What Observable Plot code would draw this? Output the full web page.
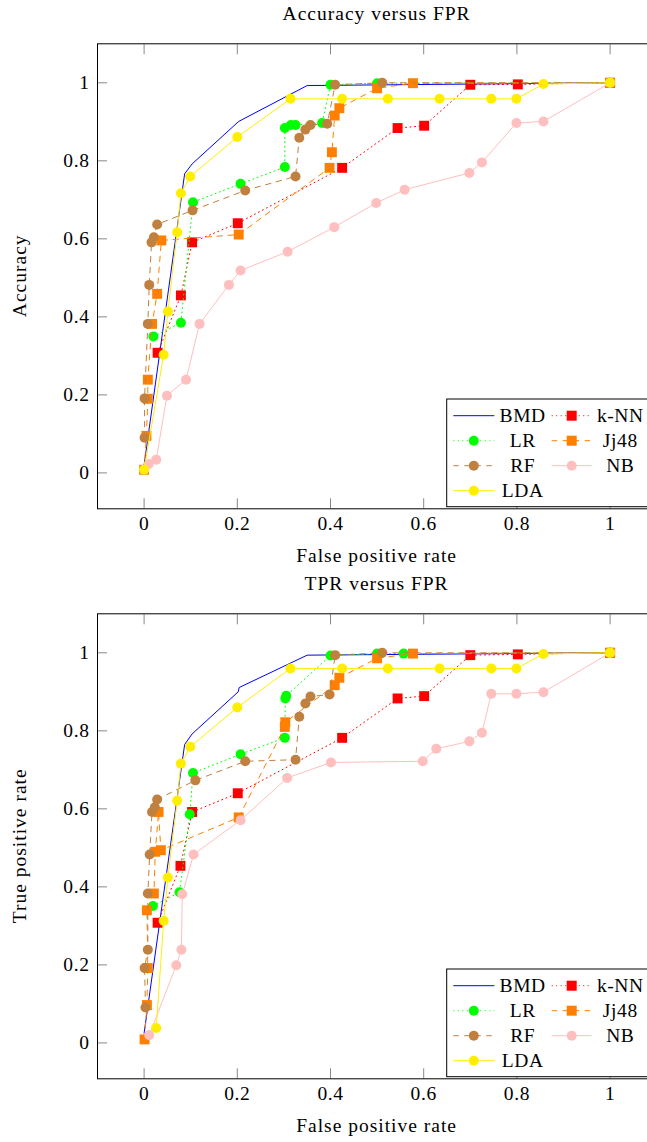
<!DOCTYPE html>
<html><head><meta charset="utf-8">
<script src="https://cdn.jsdelivr.net/npm/d3@7"></script>
<script src="https://cdn.jsdelivr.net/npm/@observablehq/plot@0.6"></script>
<style>
html,body{margin:0;padding:0;background:#fff;overflow:hidden;}
#wrap{position:relative;width:647px;height:1142px;overflow:hidden;font-family:"Liberation Serif",serif;}
#wrap svg{position:absolute;left:0;max-width:none !important;}
</style></head><body><div id="wrap"></div>
<script>
const FONT = '"Liberation Serif", "DejaVu Serif", serif';

// ---- tick values ----
const xTicks = [0, 0.2, 0.4, 0.6, 0.8, 1];
const yTicks = [0, 0.2, 0.4, 0.6, 0.8, 1];

// ---- series meta (legend order) ----
const seriesNames  = ["BMD", "k-NN", "LR", "Jj48", "RF", "NB", "LDA"];
const seriesColors = ["#0000ff", "#ff0000", "#00ff00", "#ff8000", "#bf8040", "#ffbfbf", "#ffee00"];
const seriesDash   = [null, "1 3.5", "1 3.5", "5.5 5.5", "5.5 5.5", null, null];
const seriesSymbol = [null, "square", "circle", "square", "circle", "circle", "circle"];

// ---- Chart 1: Accuracy versus FPR  ([FPR, Accuracy]) ----
const accBMD  = [[0,0.02],[0.087,0.767],[0.103,0.792],[0.203,0.901],[0.35,0.993],[1,1]];
const accKNN  = [[0.029,0.308],[0.079,0.455],[0.103,0.591],[0.201,0.64],[0.425,0.782],[0.544,0.884],[0.601,0.89],[0.7,0.995],[0.802,0.996],[1,1]];
const accLR   = [[0.02,0.35],[0.079,0.385],[0.105,0.694],[0.207,0.741],[0.302,0.784],[0.302,0.884],[0.315,0.892],[0.325,0.892],[0.382,0.897],[0.4,0.995],[0.5,0.999],[1,1]];
const accJ48  = [[0,0.008],[0.005,0.095],[0.008,0.19],[0.008,0.239],[0.017,0.382],[0.028,0.459],[0.037,0.596],[0.203,0.611],[0.398,0.782],[0.403,0.822],[0.409,0.916],[0.419,0.935],[0.5,0.986],[0.577,0.999],[1,1]];
const accRF   = [[0.001,0.09],[0.001,0.191],[0.008,0.382],[0.011,0.482],[0.016,0.591],[0.021,0.604],[0.028,0.637],[0.104,0.673],[0.217,0.724],[0.325,0.76],[0.333,0.859],[0.346,0.88],[0.357,0.892],[0.393,0.895],[0.41,0.995],[0.511,1.0],[1,1]];
const accNB   = [[0.01,0.023],[0.026,0.034],[0.049,0.198],[0.09,0.239],[0.119,0.382],[0.182,0.482],[0.207,0.519],[0.308,0.567],[0.408,0.63],[0.498,0.692],[0.559,0.726],[0.698,0.769],[0.725,0.796],[0.799,0.897],[0.857,0.901],[1,1]];
const accLDA  = [[0,0.008],[0.042,0.303],[0.051,0.414],[0.071,0.617],[0.079,0.717],[0.099,0.76],[0.2,0.861],[0.314,0.959],[0.425,0.959],[0.523,0.959],[0.634,0.959],[0.745,0.959],[0.799,0.959],[0.857,0.997],[1,1]];

// ---- Chart 2: TPR versus FPR  ([FPR, TPR]) ----
const tprBMD  = [[0,0.025],[0.087,0.765],[0.103,0.792],[0.202,0.9],[0.204,0.911],[0.35,0.994],[1,1]];
const tprKNN  = [[0.029,0.308],[0.078,0.454],[0.103,0.592],[0.201,0.64],[0.425,0.782],[0.544,0.883],[0.601,0.889],[0.7,0.994],[0.802,0.996],[1,1]];
const tprLR   = [[0.019,0.351],[0.076,0.386],[0.098,0.586],[0.105,0.692],[0.207,0.74],[0.302,0.782],[0.303,0.883],[0.305,0.89],[0.4,0.993],[0.5,0.998],[0.557,0.998],[1,1]];
const tprJ48  = [[0.001,0.009],[0.006,0.097],[0.008,0.192],[0.006,0.34],[0.021,0.383],[0.024,0.49],[0.031,0.592],[0.036,0.494],[0.203,0.578],[0.302,0.81],[0.303,0.822],[0.409,0.917],[0.419,0.936],[0.5,0.986],[0.577,0.998],[1,1]];
const tprRF   = [[0.003,0.091],[0.001,0.192],[0.008,0.239],[0.008,0.383],[0.012,0.483],[0.017,0.592],[0.023,0.604],[0.028,0.624],[0.11,0.673],[0.217,0.722],[0.325,0.726],[0.333,0.836],[0.346,0.87],[0.357,0.888],[0.398,0.893],[0.41,0.994],[0.511,1.0],[1,1]];
const tprNB   = [[0.011,0.02],[0.069,0.199],[0.08,0.239],[0.082,0.381],[0.106,0.483],[0.207,0.571],[0.307,0.679],[0.401,0.719],[0.598,0.722],[0.627,0.754],[0.698,0.773],[0.725,0.795],[0.745,0.895],[0.799,0.895],[0.857,0.899],[1,1]];
const tprLDA  = [[0.026,0.038],[0.042,0.313],[0.051,0.424],[0.071,0.621],[0.079,0.716],[0.099,0.759],[0.2,0.86],[0.314,0.96],[0.425,0.96],[0.523,0.96],[0.634,0.96],[0.745,0.96],[0.799,0.96],[0.857,0.997],[1,1]];

const chart1 = {title: "Accuracy versus FPR", ylabel: "Accuracy", xlabel: "False positive rate",
  series: [accBMD, accKNN, accLR, accJ48, accRF, accNB, accLDA]};
const chart2 = {title: "TPR versus FPR", ylabel: "True positive rate", xlabel: "False positive rate",
  series: [tprBMD, tprKNN, tprLR, tprJ48, tprRF, tprNB, tprLDA]};

const W = 660, H = 560, MT = 43.3, MB = 51.7, ML = 97, MR = 3.8;

function makePlot(cfg) {
  const marks = [];
  const tk = {stroke: "#888", strokeWidth: 1, tickFormat: () => "", label: null};
  marks.push(Plot.axisX({ticks: xTicks, anchor: "bottom", tickSize: 10, dy: -10, ...tk}));
  marks.push(Plot.axisX({ticks: xTicks, anchor: "top", tickSize: 10, dy: 10, ...tk}));
  marks.push(Plot.axisY({ticks: yTicks, anchor: "left", tickSize: 10, dx: 10, ...tk}));
  marks.push(Plot.axisY({ticks: yTicks, anchor: "right", tickSize: 10, dx: -10, ...tk}));
  marks.push(Plot.axisX({ticks: xTicks, anchor: "bottom", tickSize: 0, tickPadding: 7, tickFormat: d => String(d), label: null, fontSize: 19.5, fontFamily: FONT}));
  marks.push(Plot.axisY({ticks: yTicks, anchor: "left", tickSize: 0, tickPadding: 8, tickFormat: d => String(d), label: null, fontSize: 19.5, fontFamily: FONT}));
  cfg.series.forEach((data, i) => {
    marks.push(Plot.line(data, {x: d => d[0], y: d => d[1], stroke: seriesColors[i], strokeWidth: 1,
      strokeDasharray: seriesDash[i] || undefined}));
    if (seriesSymbol[i]) {
      marks.push(Plot.dot(data, {x: d => d[0], y: d => d[1], fill: seriesColors[i], stroke: "none",
        symbol: seriesSymbol[i], r: seriesSymbol[i] === "square" ? 5.6 : 5}));
    }
  });
  marks.push(Plot.frame({stroke: "black", strokeWidth: 1}));
  const svg = Plot.plot({
    width: W, height: H, marginTop: MT, marginBottom: MB, marginLeft: ML, marginRight: MR,
    style: {fontFamily: FONT, fontSize: "19.5px", background: "white", color: "black", overflow: "visible", maxWidth: "none"},
    x: {domain: [-0.1, 1.1]},
    y: {domain: [-0.092, 1.1]},
    marks
  });
  svg.style.maxWidth = "none";
  svg.style.width = W + "px";
  svg.style.height = H + "px";
  d3.select(svg).selectAll("text")
    .attr("font-family", FONT).style("font-family", FONT)
    .style("font-size", "19.5px").attr("letter-spacing", 0.6)
    .style("font-variant", "normal");
  return svg;
}

const wrap = document.getElementById("wrap");
const offsets = [0, 570];
[chart1, chart2].forEach((cfg, k) => {
  const svg = makePlot(cfg);
  svg.style.top = offsets[k] + "px";
  wrap.appendChild(svg);
});

// overlay: titles, axis labels, legends
const ov = d3.select(wrap).append("svg")
  .attr("width", 647).attr("height", 1142)
  .attr("font-family", FONT)
  .style("top", "0px");

const cx = ML + (W - ML - MR) / 2;
[chart1, chart2].forEach((cfg, k) => {
  const o = offsets[k];
  const frameTop = o + MT, frameBot = o + H - MB;
  ov.append("text").attr("x", cx).attr("y", o + 20).attr("text-anchor", "middle")
    .attr("font-size", 19.5).attr("letter-spacing", 1).text(cfg.title);
  ov.append("text").attr("x", cx).attr("y", frameBot + 53.4).attr("text-anchor", "middle")
    .attr("font-size", 19.5).attr("letter-spacing", 1).text(cfg.xlabel);
  ov.append("text").attr("transform", `translate(26,${(frameTop + frameBot) / 2}) rotate(-90)`)
    .attr("text-anchor", "middle").attr("font-size", 19.5).attr("letter-spacing", 1).text(cfg.ylabel);

  // legend
  const top = frameBot - 109.3;
  const g = ov.append("g");
  g.append("rect").attr("x", 446.7).attr("y", top).attr("width", 230).attr("height", 107.7)
    .attr("fill", "white").attr("stroke", "black").attr("stroke-width", 1);
  const colLine = [[453.3, 494.3], [551.7, 591.7]];
  const colText = [522.7, 620.3];
  seriesNames.forEach((name, i) => {
    const col = i % 2, row = Math.floor(i / 2);
    const yy = top + 16.7 + 25 * row;
    const [x1, x2] = colLine[col];
    g.append("line").attr("x1", x1).attr("x2", x2).attr("y1", yy).attr("y2", yy)
      .attr("stroke", seriesColors[i]).attr("stroke-width", 1)
      .attr("stroke-dasharray", seriesDash[i] || null);
    const mx = (x1 + x2) / 2;
    if (seriesSymbol[i] === "circle") {
      g.append("circle").attr("cx", mx).attr("cy", yy).attr("r", 5).attr("fill", seriesColors[i]);
    } else if (seriesSymbol[i] === "square") {
      g.append("rect").attr("x", mx - 5).attr("y", yy - 5).attr("width", 10).attr("height", 10).attr("fill", seriesColors[i]);
    }
    g.append("text").attr("x", colText[col]).attr("y", yy + 6.5).attr("text-anchor", "middle")
      .attr("font-size", 19.5).attr("letter-spacing", 0.6).text(name);
  });
});
</script>
</body></html>
